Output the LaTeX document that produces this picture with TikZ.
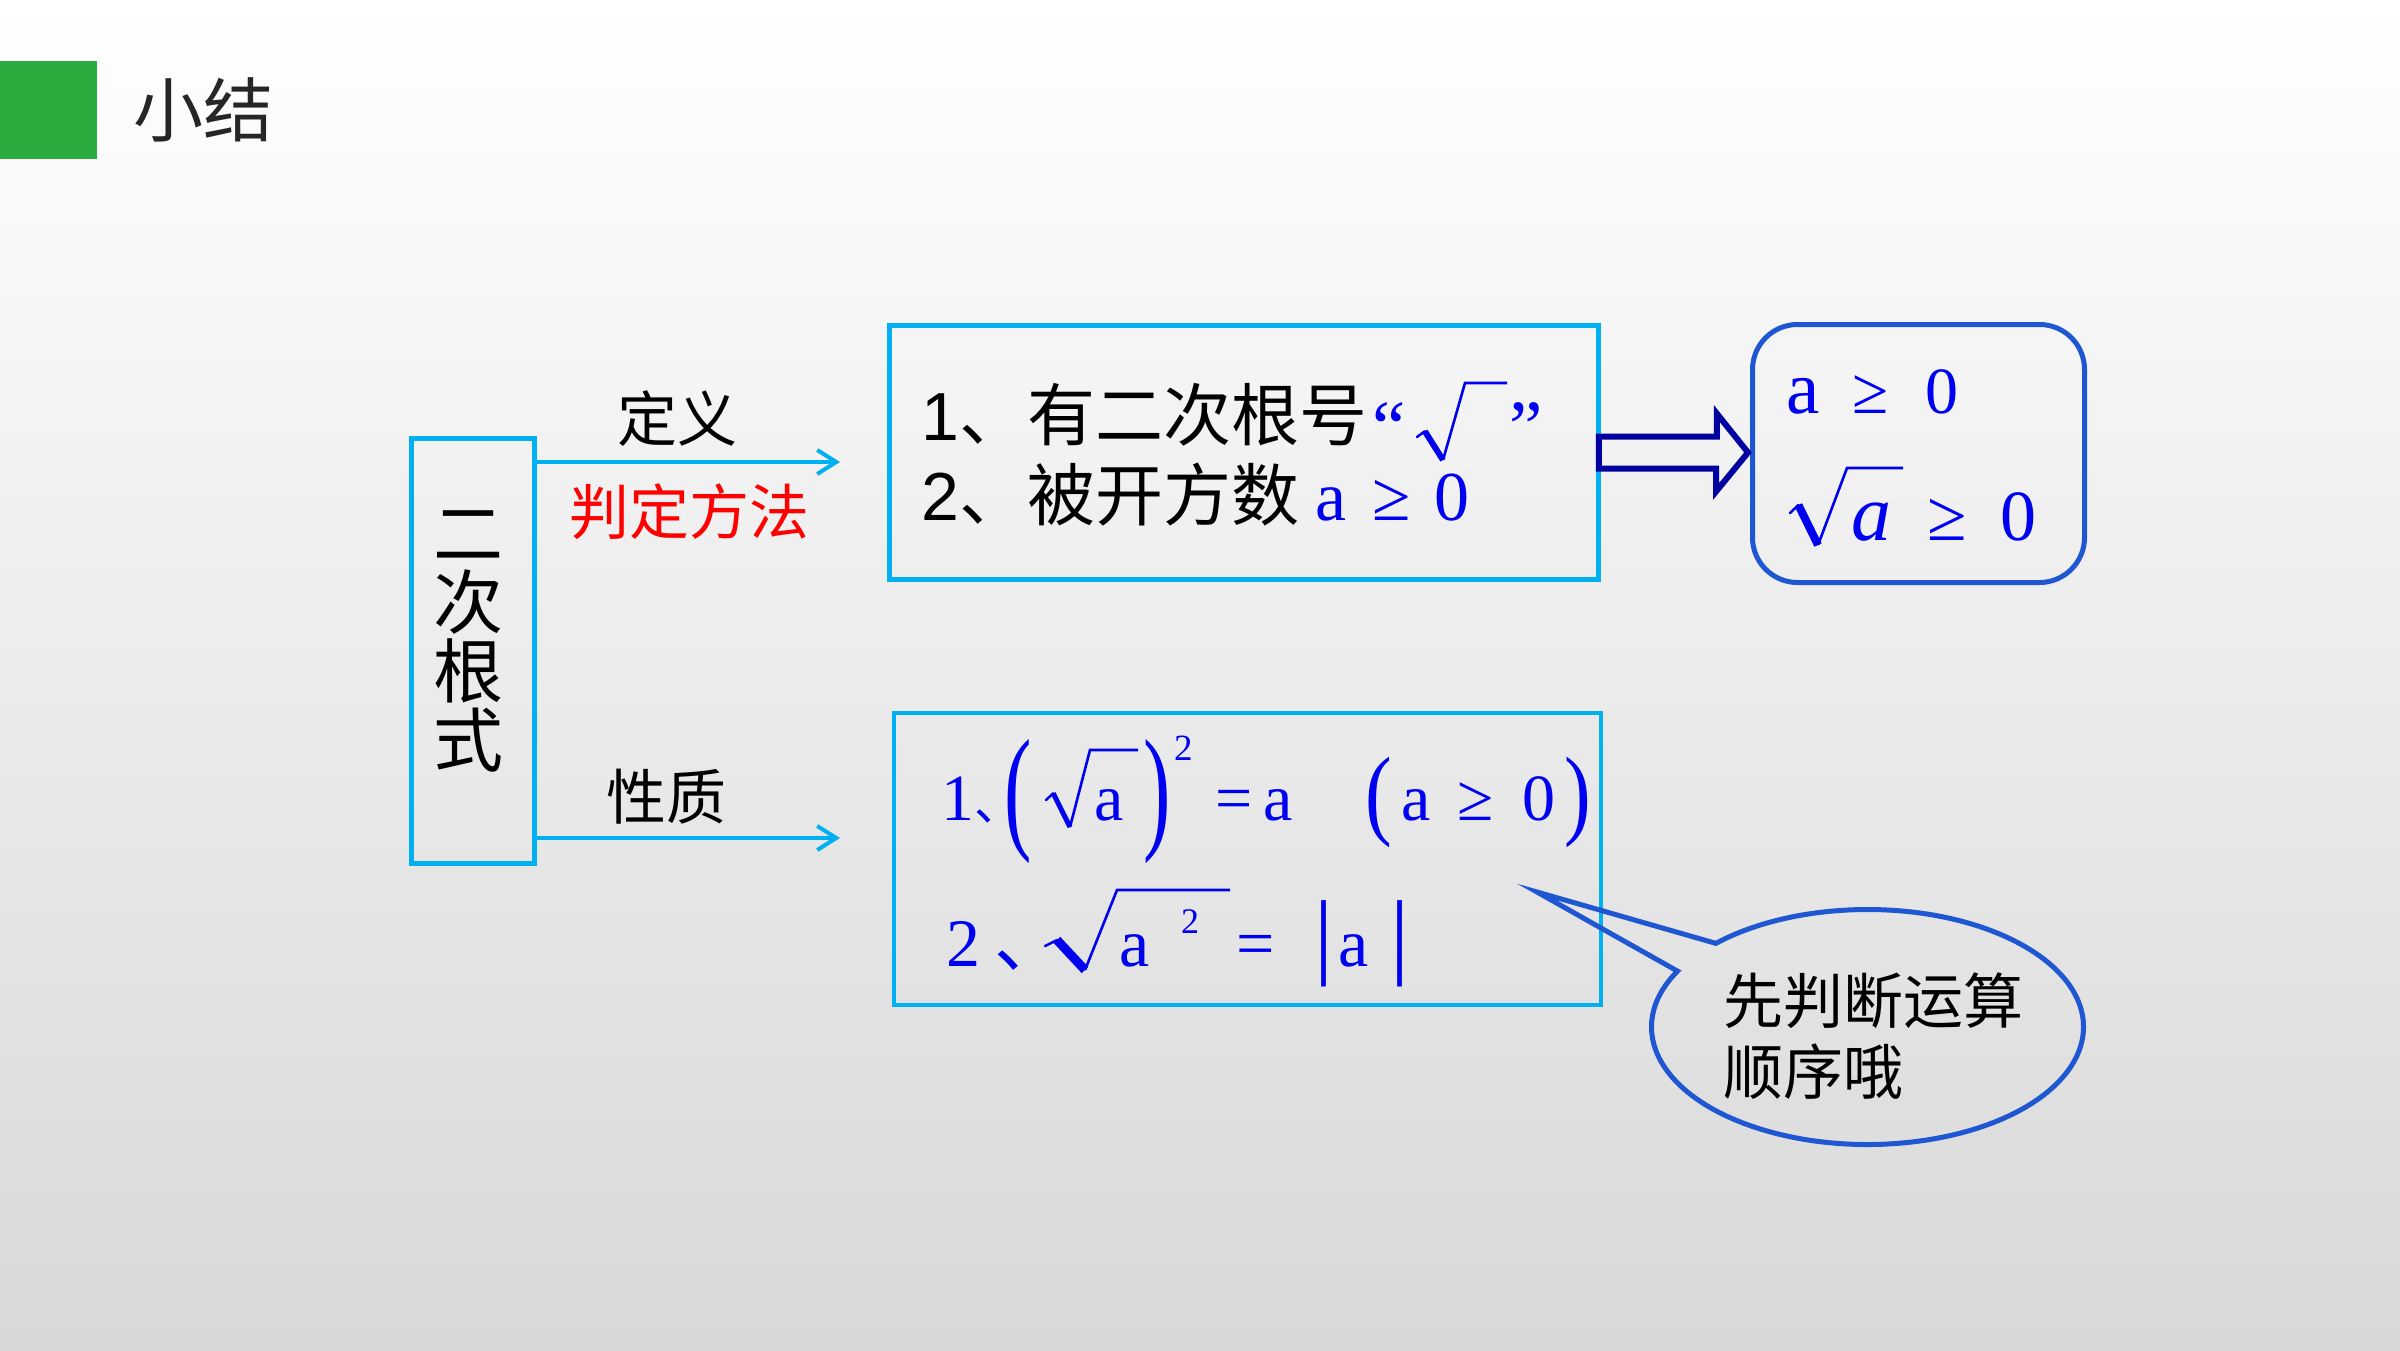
\documentclass[tikz,border=0pt]{standalone}
\usepackage{fontspec}
\usepackage{graphicx}
\setmainfont{Liberation Serif}
\newfontfamily\cjk{Noto Sans CJK SC}
\newfontfamily\arialf{Liberation Sans}
\usetikzlibrary{arrows.meta,calc,shapes.callouts}
\definecolor{cyanc}{RGB}{0,176,240}
\definecolor{rblue}{RGB}{31,87,210}
\definecolor{navyc}{RGB}{0,0,160}
\definecolor{tblue}{RGB}{0,0,240}
\definecolor{greenc}{RGB}{43,172,62}
\definecolor{bgbot}{RGB}{216,216,216}
\definecolor{titleg}{RGB}{38,38,38}
\newcommand\fsz[1]{\fontsize{#1}{#1}\selectfont}
% radical sign: tick start (#1,#2), bottom (#3,#4), top (#5,#6), overline end x #7, thick width #8
\newcommand\myradix[8]{%
  \draw[tblue,line width=2.5pt,line cap=round] (#1,#2) -- ({#1+0.3*(#3-#1)},{#2-0.25*(#4-#2)});
  \draw[tblue,line width=#8pt] ({#1+0.3*(#3-#1)},{#2-0.25*(#4-#2)}) -- (#3,#4);
  \draw[tblue,line width=2.6pt,line join=miter] (#3,#4) -- (#5,#6) -- (#7,#6);
}
\tikzset{
  cbox/.style={draw=cyanc, line width=4.5pt, inner sep=0pt},
  carrow/.style={draw=cyanc, line width=4pt, -{Straight Barb[length=19pt,width=24pt]}},
  lab/.style={font={\cjk\fsz{60}}, text=black, inner sep=0pt, anchor=base},
  tline/.style={font={\fsz{68}}, text=black, inner sep=0pt, anchor=base west},
  mb/.style={text=tblue, inner sep=0pt, anchor=base west},
  paren/.style={text=tblue, inner sep=0pt, anchor=center},
  rbox/.style={draw=rblue, line width=5pt, rounded corners=45pt, inner sep=0pt},
  barrow/.style={draw=navyc, line width=6pt, line join=miter},
}
\begin{document}
\begin{tikzpicture}[x=1pt,y=-1pt]
\useasboundingbox (0,0) rectangle (2400,1350);
\shade[top color=white, bottom color=bgbot] (0,0) rectangle (2400,1350);

% title
\node[fill=greenc, draw=none, minimum width=97pt, minimum height=98pt, inner sep=0pt] (gsq) at (48.5,110) {};
\node[anchor=base west, inner sep=0pt, font={\cjk\fsz{70}}, text=titleg] (title) at (133,136) {小结};

% left box
\node[cbox, minimum width=123pt, minimum height=425pt] (lb) at (473,651) {};
\node[font={\cjk\fontsize{70}{69}\selectfont}, align=center, inner sep=0pt] (vt) at (468,641) {二\\次\\根\\式};

% connectors
\coordinate (a1) at (840,462);
\coordinate (a2) at (840,838);
\draw[carrow] (lb.east |- a1) -- (a1);
\draw[carrow] (lb.east |- a2) -- (a2);
\node[lab] (dy) at (677,441) {定义};
\node[lab, text=red] (pd) at (689,534) {判定方法};
\node[lab] (xz) at (666,819) {性质};

% top box
\node[cbox, minimum width=709pt, minimum height=254pt] (tb) at (1244,452.5) {};
\node[tline] (t1) at (921,440) {{\arialf 1}{\cjk 、有二次根号}};
\node[mb, font={\fsz{75}}] (q1) at (1372,452) {“};
\node[mb, font={\fsz{75}}] (q2) at (1509,452) {”};
\myradix{1417}{437}{1443}{460}{1465}{383}{1507}{6}
\node[tline] (t2) at (921,520) {{\arialf 2}{\cjk 、被开方数}};
\node[mb, font={\fsz{70}}] (t2m) at (1315,520) {a\hspace{26pt}≥\hspace{23.6pt}0};

% right box
\node[rbox, minimum width=332pt, minimum height=258pt] (rb) at (1918.5,453.5) {};
\node[mb, font={\fsz{66}}] (r1) at (1786,413) {{\fsz{75}a}\hspace{33pt}≥\hspace{36.8pt}0};
\myradix{1790}{513}{1818}{545}{1847}{468}{1903}{8}
\node[mb, font={\fsz{72}}] (r2) at (1851.6,540) {{\fsz{80}\itshape a}\hspace{35.4pt}≥\hspace{33.8pt}0};

% block arrow
\draw[barrow] ($(tb.east)+(-2,-16)$) -- ++(118,0) -- ++(0,-23)
  -- ($(rb.west |- tb.east)+(-2,0)$) -- ++(-32,39) -- ++(0,-23)
  -- ($(tb.east)+(-2,16)$) -- cycle;

% bottom box
\node[cbox, minimum width=707pt, minimum height=292pt] (bb) at (1247.5,859) {};
% line 1
\node[mb, font={\fsz{66}}] (b1n) at (941,820) {1\makebox[20pt][l]{\cjk\fsz{48}、}};
\node[paren, font={\fsz{137}}] (b1lp) at (1018,801.5) {\scalebox{0.6}[1]{(}};
\myradix{1046}{800}{1070}{827}{1090}{750}{1138}{5}
\node[mb, font={\fsz{66}}] (b1a) at (1094.6,820) {a};
\node[paren, font={\fsz{137}}] (b1rp) at (1157,801.5) {\scalebox{0.6}[1]{)}};
\node[mb, font={\fsz{37}}] (b1s) at (1174,760) {2};
\node[mb, font={\fsz{66}}] (b1eq) at (1215,820) {=\hspace{10.6pt}a};
\node[paren, font={\fsz{100}}] (b1lq) at (1379,802.5) {\scalebox{0.8}[1]{(}};
\node[mb, font={\fsz{66}}] (b1c) at (1401.6,820) {a\hspace{26pt}≥\hspace{29.2pt}0};
\node[paren, font={\fsz{100}}] (b1rq) at (1577.5,802.5) {\scalebox{0.8}[1]{)}};
% line 2
\node[mb, font={\fsz{68}}] (b2n) at (946,966) {2\hspace{14pt}\makebox[30pt][l]{\cjk\fsz{70}、}};
\myradix{1045}{946}{1085}{970}{1117}{890}{1230}{9}
\node[mb, font={\fsz{68}}] (b2a) at (1119.5,966) {a};
\node[mb, font={\fsz{36}}] (b2s) at (1181,933) {2};
\node[mb, font={\fsz{68}}] (b2eq) at (1236.7,966) {=};
\node[mb, font={\fsz{68}}] (b2abs) at (1314.5,966) {{\fsz{95}|}\hspace{4.5pt}a\hspace{22.5pt}{\fsz{95}|}};

% callout
\node[ellipse callout, draw=rblue, line width=5pt, minimum width=432pt, minimum height=235pt,
      inner sep=0pt, callout absolute pointer={(1537,892)}, callout pointer arc=17] (bubble) at (1867.5,1027) {};
\node[font={\cjk\fontsize{60}{71}\selectfont}, align=left, inner sep=0pt] (btext) at (1873,1036) {先判断运算\\顺序哦};
\end{tikzpicture}
\end{document}
